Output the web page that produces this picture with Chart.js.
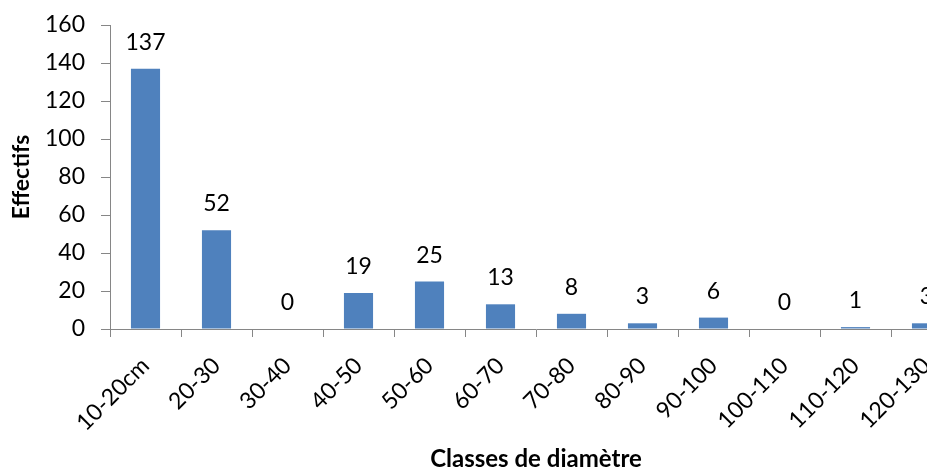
<!DOCTYPE html>
<html>
<head>
<meta charset="utf-8">
<script src="https://cdn.jsdelivr.net/npm/chart.js@4"></script>
<style>
  html, body { margin: 0; padding: 0; background: #fff; overflow: hidden; }
  #wrap { position: relative; width: 975px; height: 472px; }
</style>
</head>
<body>
<div id="wrap"><canvas id="chart"></canvas></div>
<script>
/* Données */
const classes  = ['10-20cm', '20-30', '30-40', '40-50', '50-60', '60-70',
                  '70-80', '80-90', '90-100', '100-110', '110-120', '120-130'];
const effectifs = [137, 52, 0, 19, 25, 13, 8, 3, 6, 0, 1, 3];
const yTicks    = [0, 20, 40, 60, 80, 100, 120, 140, 160];

const FONT = 'Lato, "Open Sans", sans-serif';
const AXIS = '#868686';

/* Étiquettes de valeur au-dessus des barres */
const valueLabels = {
  id: 'valueLabels',
  afterDatasetsDraw(chart) {
    const ctx = chart.ctx;
    const meta = chart.getDatasetMeta(0);
    ctx.save();
    ctx.font = '23px ' + FONT;
    ctx.fillStyle = '#000';
    ctx.textAlign = 'center';
    ctx.textBaseline = 'alphabetic';
    meta.data.forEach((bar, i) => {
      ctx.fillText(String(effectifs[i]), bar.x, bar.y - 19);
    });
    ctx.restore();
  }
};

new Chart(document.getElementById('chart'), {
  type: 'bar',
  data: {
    labels: classes,
    datasets: [{
      data: effectifs,
      backgroundColor: '#4F81BD',
      borderWidth: 0,
      barPercentage: 1,
      categoryPercentage: 0.41,
    }],
  },
  options: {
    responsive: true,
    maintainAspectRatio: false,
    animation: false,
    layout: { padding: { top: 25, right: 13, bottom: 0, left: 0 } },
    plugins: { legend: { display: false }, tooltip: { enabled: false } },
    scales: {
      x: {
        grid: { drawOnChartArea: false, color: AXIS, tickLength: 8, offset: true },
        border: { color: AXIS, width: 1 },
        ticks: {
          color: '#000', font: { family: FONT, size: 23 },
          minRotation: 45, maxRotation: 45, autoSkip: false,
          padding: 15, labelOffset: 0,
        },
        title: {
          display: true, text: 'Classes de diamètre', color: '#000',
          font: { family: FONT, size: 24, weight: 'bold' },
          padding: { top: 0, bottom: -2 },
        },
        afterFit(scale) { scale.height = 143; },
      },
      y: {
        min: 0, max: 160,
        afterBuildTicks(scale) { scale.ticks = yTicks.map(v => ({ value: v })); },
        grid: { drawOnChartArea: false, color: AXIS, tickLength: 9 },
        border: { color: AXIS, width: 1 },
        ticks: { color: '#000', font: { family: FONT, size: 23 }, padding: 16 },
        title: {
          display: true, text: 'Effectifs', color: '#000',
          font: { family: FONT, size: 23, weight: 'bold' },
          padding: { top: 8, bottom: 0 },
        },
        afterFit(scale) {
          scale.width = 110;
          scale.paddingTop = 0;
          scale.paddingBottom = 0;
        },
      },
    },
  },
  plugins: [valueLabels],
});
</script>
</body>
</html>
